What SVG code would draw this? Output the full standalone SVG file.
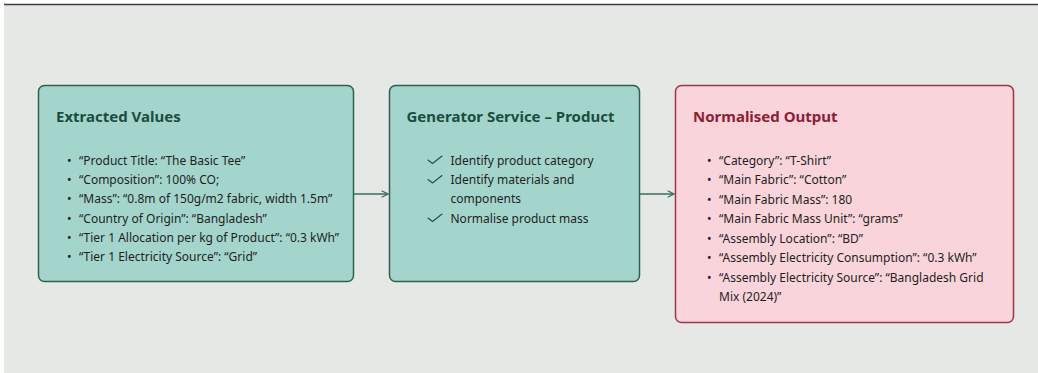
<svg xmlns="http://www.w3.org/2000/svg" width="1038" height="373" viewBox="0 0 1038 373">
  <style>
    .canvas { fill: #e6e8e5; }
    .rule { stroke: #3c3c3c; stroke-width: 1.5; }
    .box-green { fill: #a3d5cc; stroke: #2f5f50; stroke-width: 1.5; }
    .box-pink { fill: #f9d4db; stroke: #a13249; stroke-width: 1.5; }
    .title { font-family: "Noto Sans", "Open Sans", sans-serif; font-weight: 700; font-size: 15px; }
    .title-green { fill: #1b4d3f; }
    .title-pink { fill: #8e1d36; }
    .item { font-family: "Noto Sans", "Open Sans", sans-serif; font-size: 12px; fill: #1f1f1f; }
    .conn { stroke: #3b6d5f; stroke-width: 1.5; fill: none; }
    .tick { stroke: #2a4d43; stroke-width: 1.1; fill: none; stroke-linecap: round; stroke-linejoin: round; }
  </style>
  <defs>
    <marker id="arrow" viewBox="0 0 10 10" refX="9" refY="5" markerWidth="8" markerHeight="8" markerUnits="userSpaceOnUse" orient="auto">
      <path d="M1,1 L9,5 L1,9" fill="none" stroke="#3b6d5f" stroke-width="1.6"/>
    </marker>
    <symbol id="check" viewBox="0 0 16 10" width="16" height="10" overflow="visible">
      <path class="tick" d="M1,5 L5.5,8.5 L15,1"/>
    </symbol>
  </defs>

  <!-- page background and top rule -->
  <rect class="canvas" x="4" y="5" width="1034" height="368"/>
  <line class="rule" x1="4" y1="4.5" x2="1038" y2="4.5"/>

  <!-- connectors -->
  <g id="connectors">
    <line class="conn" x1="354" y1="194" x2="388" y2="194" marker-end="url(#arrow)"/>
    <line class="conn" x1="640" y1="194" x2="674" y2="194" marker-end="url(#arrow)"/>
  </g>

  <!-- source values -->
  <g id="extracted-values">
    <rect class="box-green" x="38.5" y="85.5" width="315" height="196" rx="6"/>
    <text class="title title-green" x="56" y="122">Extracted Values</text>
    <g class="item">
      <text x="67" y="164.5">•</text><text x="79" y="164.5">“Product Title: “The Basic Tee”</text>
      <text x="67" y="184">•</text><text x="79" y="184">“Composition”: 100% CO;</text>
      <text x="67" y="203">•</text><text x="79" y="203">“Mass”: “0.8m of 150g/m2 fabric, width 1.5m”</text>
      <text x="67" y="222.5">•</text><text x="79" y="222.5">“Country of Origin”: “Bangladesh”</text>
      <text x="67" y="242">•</text><text x="79" y="242">“Tier 1 Allocation per kg of Product”: “0.3 kWh”</text>
      <text x="67" y="261">•</text><text x="79" y="261">“Tier 1 Electricity Source”: “Grid”</text>
    </g>
  </g>

  <!-- generator step -->
  <g id="generator-service">
    <rect class="box-green" x="389.5" y="85.5" width="250" height="196" rx="6"/>
    <text class="title title-green" x="406.5" y="122">Generator Service – Product</text>
    <use href="#check" x="427" y="155"/>
    <use href="#check" x="427" y="174.5"/>
    <use href="#check" x="427" y="213"/>
    <g class="item">
      <text x="450.5" y="164.5">Identify product category</text>
      <text x="450.5" y="184">Identify materials and</text>
      <text x="450.5" y="203">components</text>
      <text x="450.5" y="222.5">Normalise product mass</text>
    </g>
  </g>

  <!-- normalised result -->
  <g id="normalised-output">
    <rect class="box-pink" x="675.5" y="85.5" width="338" height="237" rx="6"/>
    <text class="title title-pink" x="693" y="122">Normalised Output</text>
    <g class="item">
      <text x="707" y="164.5">•</text><text x="719" y="164.5">“Category”: “T-Shirt”</text>
      <text x="707" y="184">•</text><text x="719" y="184">“Main Fabric”: “Cotton”</text>
      <text x="707" y="203.5">•</text><text x="719" y="203.5">“Main Fabric Mass”: 180</text>
      <text x="707" y="223">•</text><text x="719" y="223">“Main Fabric Mass Unit”: “grams”</text>
      <text x="707" y="242.5">•</text><text x="719" y="242.5">“Assembly Location”: “BD”</text>
      <text x="707" y="262">•</text><text x="719" y="262">“Assembly Electricity Consumption”: “0.3 kWh”</text>
      <text x="707" y="281.5">•</text><text x="719" y="281.5">“Assembly Electricity Source”: “Bangladesh Grid</text>
      <text x="719" y="301">Mix (2024)”</text>
    </g>
  </g>
</svg>
